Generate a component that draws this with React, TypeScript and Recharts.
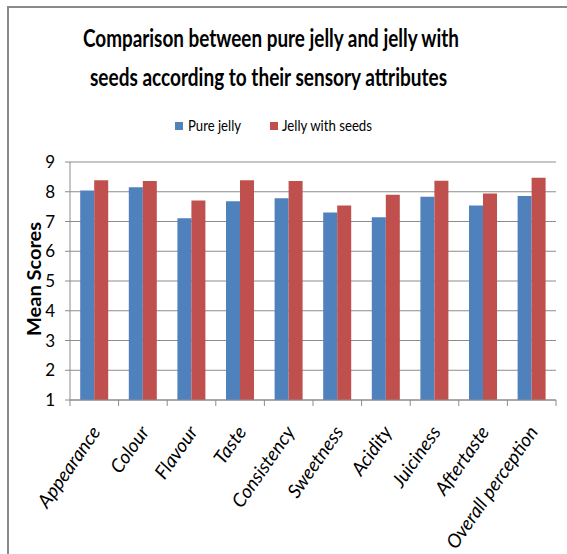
import React from 'react';
import { BarChart, Bar, XAxis, YAxis, CartesianGrid } from 'recharts';

const categories = ['Appearance', 'Colour', 'Flavour', 'Taste', 'Consistency', 'Sweetness', 'Acidity', 'Juiciness', 'Aftertaste', 'Overall perception'];
const pureJelly = [8.04, 8.15, 7.11, 7.68, 7.78, 7.30, 7.14, 7.83, 7.54, 7.86];
const jellyWithSeeds = [8.39, 8.36, 7.71, 8.39, 8.36, 7.54, 7.90, 8.37, 7.94, 8.47];
const yTicks = [1, 2, 3, 4, 5, 6, 7, 8, 9];
const seriesNames = ['Pure jelly', 'Jelly with seeds'];
const titleLines = ['Comparison between pure jelly and jelly with', 'seeds according to their sensory attributes'];

const data = categories.map((name, i) => ({ name, pure: pureJelly[i], seeds: jellyWithSeeds[i] }));

const FONT = 'Lato, "Open Sans", sans-serif';
const GRID = '#8c8c8c';
const BLUE = '#4F81BD';
const RED = '#C0504D';

const XTick = (props: any) => {
  const { x, y, payload, index, width, visibleTicksCount } = props;
  const band = width / visibleTicksCount;
  const left = x - band / 2;
  const right = x + band / 2;
  const last = index === visibleTicksCount - 1;
  const ax = x + 7;
  const ay = y + 32;
  return (
    <g>
      <line x1={left} y1={y} x2={left} y2={y + 6} stroke={GRID} strokeWidth={1} />
      {last && <line x1={right} y1={y} x2={right} y2={y + 6} stroke={GRID} strokeWidth={1} />}
      <text
        x={ax}
        y={ay}
        textAnchor="end"
        transform={`rotate(-55 ${ax} ${ay})`}
        fontFamily={FONT}
        fontStyle="italic"
        fontSize={19}
        fill="#000"
      >
        {payload.value}
      </text>
    </g>
  );
};

export default function App() {
  return (
    <div style={{ position: 'absolute', left: 0, top: 0, width: 567, height: 554, background: '#fff', overflow: 'hidden' }}>
      <div style={{ position: 'absolute', left: 7, top: 6, width: 560, height: 548, borderLeft: '2px solid #8a8a8a', borderTop: '2px solid #8a8a8a' }} />
      <BarChart
        width={567}
        height={554}
        data={data}
        margin={{ top: 162, right: 11, bottom: 153, left: 30 }}
        barCategoryGap="21%"
        barGap={0}
      >
        <CartesianGrid vertical={false} stroke={GRID} strokeWidth={1} />
        <XAxis
          dataKey="name"
          interval={0}
          tickLine={false}
          tickSize={0}
          tickMargin={0}
          axisLine={{ stroke: GRID }}
          tick={<XTick />}
          height={1}
        />
        <YAxis
          width={40}
          domain={[1, 9]}
          ticks={yTicks}
          allowDataOverflow
          interval={0}
          axisLine={{ stroke: GRID }}
          tickLine={{ stroke: GRID }}
          tickSize={5}
          tickMargin={10}
          tick={{ fontFamily: FONT, fontSize: 17, fill: '#000' }}
          label={{
            content: (p: any) => {
              const vb = p.viewBox;
              const cx = 34;
              const cy = vb.y + vb.height / 2 - 2;
              return (
                <text x={cx} y={cy} textAnchor="middle" dominantBaseline="central" transform={`rotate(-90 ${cx} ${cy})`} fontFamily={FONT} fontWeight="bold" fontSize={18} textLength={114} lengthAdjust="spacingAndGlyphs" fill="#000">
                  Mean Scores
                </text>
              );
            },
          }}
        />
        <Bar dataKey="pure" name={seriesNames[0]} fill={BLUE} isAnimationActive={false} />
        <Bar dataKey="seeds" name={seriesNames[1]} fill={RED} isAnimationActive={false} />
      </BarChart>
      <svg width={567} height={150} style={{ position: 'absolute', left: 0, top: 0 }}>
        <text x={271} y={47} textAnchor="middle" fontFamily={FONT} fontWeight="bold" fontSize={24} textLength={376} lengthAdjust="spacingAndGlyphs" fill="#000">
          {titleLines[0]}
        </text>
        <text x={268.5} y={86} textAnchor="middle" fontFamily={FONT} fontWeight="bold" fontSize={24} textLength={357} lengthAdjust="spacingAndGlyphs" fill="#000">
          {titleLines[1]}
        </text>
        <rect x={175} y={122} width={8} height={8} fill={BLUE} />
        <text x={188} y={131} fontFamily={FONT} fontSize={16} textLength={53} lengthAdjust="spacingAndGlyphs" fill="#000">
          {seriesNames[0]}
        </text>
        <rect x={270} y={122} width={8} height={8} fill={RED} />
        <text x={282} y={131} fontFamily={FONT} fontSize={16} textLength={90} lengthAdjust="spacingAndGlyphs" fill="#000">
          {seriesNames[1]}
        </text>
      </svg>
    </div>
  );
}
